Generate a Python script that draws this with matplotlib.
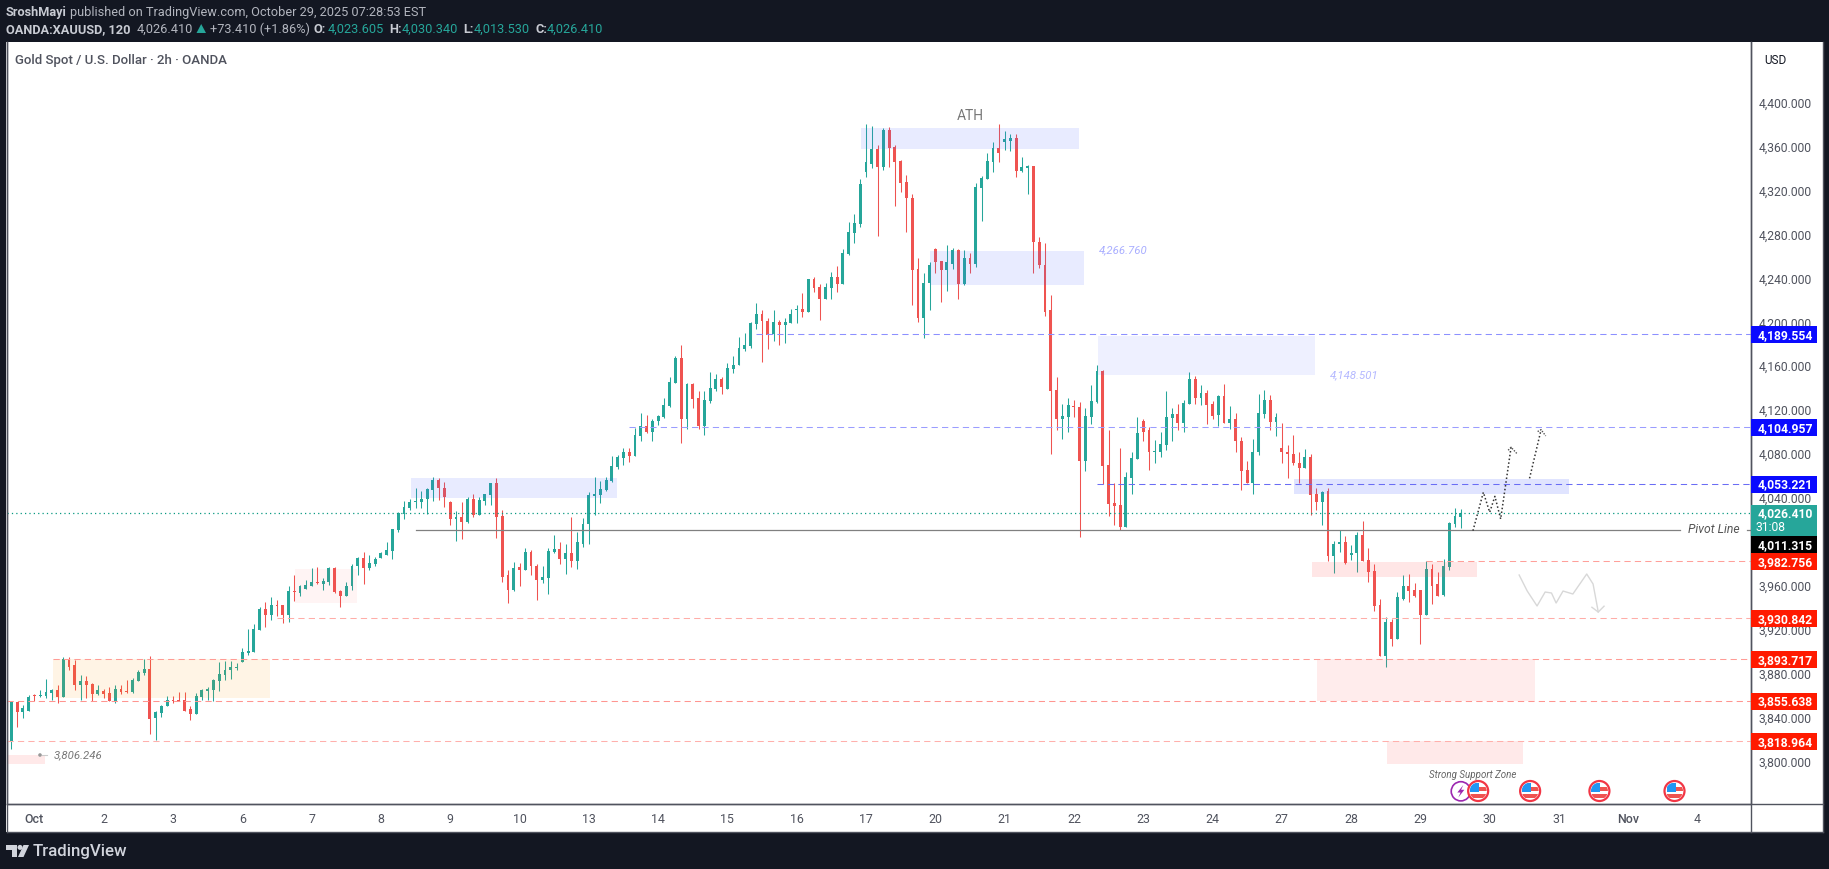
import numpy as np
import matplotlib
matplotlib.use("Agg")
import matplotlib.pyplot as plt
from matplotlib.patches import Rectangle, Circle, Polygon

FONT = ["Roboto", "DejaVu Sans"]
plt.rcParams["font.family"] = FONT

UP = "#26A69A"
DOWN = "#EF5350"
DARK = "#131722"
AXIS = "#50535E"

# 2h candles
opens = [
    3819, 3855, 3846, 3847, 3861, 3860, 3860, 3863, 3866, 3859,
    3894, 3888, 3870, 3874, 3871, 3862, 3865, 3863, 3856, 3867,
    3865, 3864, 3874, 3881, 3885, 3840, 3845, 3851, 3857, 3857,
    3857, 3848, 3844, 3859, 3865, 3866, 3874, 3879, 3884, 3886,
    3891, 3899, 3900, 3920, 3939, 3934, 3943, 3943, 3934, 3956,
    3954, 3958, 3960, 3964, 3962, 3964, 3977, 3956, 3951, 3960,
    3979, 3986, 3977, 3980, 3986, 3989, 3992, 4011, 4026, 4031,
    4037, 4037, 4040, 4048, 4057, 4050, 4037, 4021, 4023, 4019,
    4040, 4025, 4038, 4043, 4054, 4024, 3970, 3957, 3978, 3975,
    3991, 3979, 3966, 3968, 3991, 3994, 3985, 3990, 3983, 3999,
    4017, 4042, 4043, 4048, 4056, 4069, 4077, 4082, 4079, 4097,
    4106, 4101, 4111, 4114, 4124, 4145, 4168, 4112, 4144, 4132,
    4106, 4129, 4140, 4149, 4140, 4158, 4162, 4176, 4179, 4199,
    4208, 4202, 4190, 4201, 4198, 4200, 4212, 4213, 4210, 4240,
    4233, 4222, 4232, 4242, 4235, 4263, 4282, 4290, 4337, 4345,
    4358, 4342, 4376, 4360, 4347, 4328, 4314, 4249, 4204, 4236,
    4267, 4256, 4248, 4254, 4266, 4235, 4259, 4254, 4323, 4331,
    4346, 4359, 4365, 4366, 4368, 4338, 4341, 4343, 4274, 4253,
    4212, 4139, 4112, 4114, 4124, 4123, 4074, 4114, 4128, 4156,
    4071, 4036, 4034, 4014, 4059, 4076, 4111, 4102, 4082, 4082,
    4089, 4113, 4117, 4109, 4126, 4149, 4132, 4136, 4126, 4116,
    4133, 4109, 4112, 4092, 4066, 4054, 4082, 4117, 4130, 4110,
    4086, 4082, 4081, 4072, 4068, 4078, 4044, 4037, 4047, 3988,
    3999, 4000, 3989, 3990, 4007, 3984, 3974, 3943, 3897, 3928,
    3912, 3949, 3960, 3957, 3957, 3934, 3976, 3962, 3952, 3978,
    4017, 4023.605,
]
highs = [
    3856, 3855, 3852, 3861, 3862, 3866, 3876, 3867, 3870, 3896,
    3896, 3893, 3879, 3878, 3872, 3870, 3867, 3868, 3870, 3870,
    3875, 3877, 3884, 3894, 3897, 3847, 3852, 3860, 3860, 3864,
    3864, 3851, 3863, 3867, 3868, 3876, 3891, 3892, 3892, 3890,
    3904, 3921, 3926, 3941, 3946, 3950, 3948, 3943, 3960, 3970,
    3961, 3966, 3977, 3978, 3968, 3978, 3978, 3957, 3964, 3980,
    3987, 3991, 3989, 3987, 3991, 4000, 4012, 4028, 4038, 4040,
    4050, 4047, 4050, 4060, 4059, 4055, 4038, 4029, 4037, 4041,
    4044, 4041, 4044, 4054, 4059, 4030, 3975, 3982, 3981, 3995,
    3993, 3980, 3979, 3995, 4007, 4000, 3999, 4023, 4010, 4022,
    4046, 4060, 4056, 4060, 4079, 4080, 4086, 4086, 4104, 4118,
    4116, 4112, 4116, 4132, 4151, 4170, 4180, 4145, 4145, 4138,
    4138, 4155, 4153, 4151, 4163, 4170, 4187, 4191, 4201, 4218,
    4212, 4204, 4212, 4203, 4204, 4213, 4216, 4227, 4240, 4242,
    4235, 4236, 4246, 4252, 4267, 4292, 4299, 4331, 4381, 4379,
    4362, 4377, 4378, 4362, 4348, 4335, 4317, 4259, 4245, 4255,
    4268, 4256, 4271, 4268, 4267, 4266, 4264, 4327, 4334, 4355,
    4365, 4381, 4375, 4372, 4372, 4351, 4344, 4343, 4278, 4273,
    4225, 4151, 4126, 4132, 4130, 4128, 4122, 4143, 4162, 4157,
    4102, 4054, 4086, 4064, 4082, 4114, 4112, 4105, 4093, 4101,
    4138, 4122, 4126, 4130, 4155, 4152, 4143, 4139, 4129, 4134,
    4144, 4124, 4118, 4096, 4074, 4094, 4135, 4139, 4134, 4118,
    4109, 4089, 4098, 4082, 4085, 4081, 4050, 4047, 4050, 4001,
    4011, 4006, 3998, 4010, 4020, 3995, 3980, 3949, 3932, 3930,
    3955, 3970, 3971, 3963, 3957, 3983, 3980, 3973, 3985, 4019,
    4031, 4030.34,
]
lows = [
    3812, 3832, 3840, 3847, 3856, 3859, 3858, 3857, 3854, 3859,
    3884, 3866, 3857, 3858, 3856, 3861, 3858, 3856, 3854, 3862,
    3863, 3863, 3874, 3879, 3826, 3820, 3841, 3851, 3854, 3856,
    3847, 3838, 3844, 3857, 3857, 3856, 3865, 3875, 3876, 3884,
    3891, 3898, 3900, 3920, 3923, 3929, 3933, 3927, 3928, 3947,
    3951, 3958, 3960, 3962, 3957, 3961, 3954, 3941, 3951, 3957,
    3970, 3962, 3975, 3979, 3986, 3989, 3985, 4010, 4021, 4030,
    4031, 4031, 4026, 4038, 4039, 4032, 4016, 4001, 4003, 4018,
    4023, 4025, 4034, 4034, 4004, 3964, 3945, 3956, 3960, 3975,
    3970, 3948, 3963, 3953, 3990, 3980, 3971, 3978, 3976, 3996,
    3999, 4025, 4036, 4047, 4055, 4067, 4071, 4073, 4079, 4092,
    4100, 4092, 4107, 4113, 4123, 4145, 4091, 4103, 4122, 4103,
    4098, 4127, 4138, 4135, 4140, 4154, 4162, 4174, 4177, 4194,
    4164, 4176, 4183, 4180, 4182, 4200, 4200, 4205, 4210, 4228,
    4203, 4222, 4222, 4228, 4235, 4262, 4273, 4287, 4333, 4341,
    4279, 4339, 4342, 4306, 4319, 4283, 4216, 4201, 4186, 4212,
    4245, 4219, 4229, 4249, 4222, 4234, 4245, 4251, 4293, 4331,
    4337, 4346, 4357, 4356, 4333, 4337, 4317, 4245, 4250, 4206,
    4081, 4102, 4094, 4101, 4114, 4005, 4065, 4108, 4127, 4053,
    4024, 4016, 4011, 4014, 4044, 4076, 4092, 4066, 4072, 4078,
    4084, 4092, 4102, 4101, 4126, 4126, 4125, 4108, 4112, 4106,
    4109, 4103, 4082, 4048, 4054, 4044, 4080, 4113, 4102, 4097,
    4072, 4059, 4071, 4054, 4068, 4025, 4030, 4016, 3983, 3972,
    3991, 3980, 3984, 3973, 3983, 3964, 3938, 3897, 3887, 3906,
    3912, 3948, 3946, 3950, 3908, 3934, 3944, 3951, 3951, 3975,
    4014, 4013.53,
]
closes = [
    3855, 3846, 3849, 3859, 3860, 3861, 3864, 3866, 3859, 3894,
    3887, 3870, 3874, 3870, 3862, 3866, 3862, 3856, 3867, 3864,
    3864, 3875, 3882, 3885, 3839, 3846, 3851, 3857, 3856, 3856,
    3847, 3844, 3860, 3866, 3867, 3875, 3880, 3884, 3887, 3887,
    3900, 3901, 3921, 3939, 3934, 3943, 3942, 3934, 3956, 3955,
    3960, 3961, 3964, 3963, 3965, 3977, 3955, 3951, 3960, 3979,
    3986, 3977, 3981, 3985, 3990, 3993, 4012, 4027, 4032, 4037,
    4038, 4040, 4049, 4057, 4050, 4041, 4021, 4023, 4019, 4040,
    4025, 4039, 4044, 4054, 4023, 3969, 3957, 3977, 3975, 3991,
    3979, 3966, 3969, 3992, 3994, 3985, 3990, 3983, 4000, 4017,
    4043, 4044, 4049, 4057, 4070, 4078, 4082, 4079, 4098, 4106,
    4101, 4111, 4115, 4125, 4146, 4168, 4112, 4144, 4131, 4106,
    4130, 4141, 4149, 4142, 4159, 4162, 4177, 4180, 4200, 4208,
    4202, 4189, 4201, 4198, 4201, 4208, 4213, 4210, 4240, 4232,
    4222, 4233, 4242, 4235, 4264, 4283, 4291, 4326, 4346, 4358,
    4342, 4376, 4359, 4346, 4327, 4314, 4248, 4204, 4236, 4253,
    4255, 4248, 4255, 4266, 4235, 4259, 4254, 4324, 4332, 4347,
    4359, 4355, 4367, 4368, 4338, 4342, 4343, 4274, 4253, 4210,
    4138, 4112, 4115, 4125, 4123, 4074, 4115, 4129, 4156, 4070,
    4035, 4033, 4014, 4060, 4077, 4100, 4101, 4082, 4083, 4090,
    4114, 4117, 4109, 4127, 4149, 4132, 4136, 4125, 4115, 4133,
    4109, 4112, 4092, 4065, 4054, 4082, 4118, 4130, 4110, 4114,
    4082, 4081, 4072, 4068, 4078, 4043, 4037, 4046, 3988, 3999,
    4000, 3981, 3990, 4007, 3983, 3973, 3942, 3897, 3928, 3912,
    3950, 3960, 3956, 3951, 3934, 3976, 3960, 3951, 3979, 4018,
    4024, 4026.41,
]

date_labels = ["Oct", "2", "3", "6", "7", "8", "9", "10", "13", "14", "15", "16", "17",
               "20", "21", "22", "23", "24", "27", "28", "29", "30", "31", "Nov", "4"]
price_ticks = list(range(3800, 4401, 40))

# zones: bar from, bar to, price low, price high, colour, alpha
zones = [
    (147.1, 184.9, 4358.2, 4377.3, "#4861FF", 0.12),
    (159.1, 185.7, 4234.4, 4265.3, "#4861FF", 0.12),
    (188.2, 225.7, 4152.5, 4188.3, "#4861FF", 0.09),
    (69.2, 104.9, 4040.5, 4058.7, "#4861FF", 0.12),
    (222.1, 269.7, 4044.1, 4057.8, "#4861FF", 0.17),
    (7.2, 44.8, 3858.4, 3893.9, "#FF9800", 0.10),
    (49.1, 59.9, 3944.9, 3975.8, "#FF5252", 0.06),
    (225.2, 253.8, 3968.6, 3982.2, "#FF5252", 0.14),
    (226.1, 263.9, 3855.6, 3893.7, "#FF5252", 0.11),
    (238.2, 261.8, 3798.3, 3819.0, "#FF5252", 0.12),
    (-0.7, 5.8, 3798.3, 3806.5, "#FF5252", 0.12),
]
# level lines: price, first bar, colour
levels = [
    (4189.554, 129, "#8C90FF"),
    (4104.957, 107, "#9A9DFF"),
    (4053.221, 188, "#6A6DF5"),
    (3982.756, 245, "#FFA09A"),
    (3930.842, 46, "#FFADA8"),
    (3893.717, 7.2, "#FF9C96"),
    (3855.638, -0.7, "#FF9590"),
    (3818.964, -0.7, "#FFB0AC"),
]
# price tags on the scale: price, text, colour, centre shift in px
tags = [
    (4189.554, "4,189.554", "#0A0AFF", 0),
    (4104.957, "4,104.957", "#0A0AFF", 0),
    (4053.221, "4,053.221", "#0A0AFF", 0),
    (3982.756, "3,982.756", "#FF1A00", 0),
    (3930.842, "3,930.842", "#FF1A00", 0),
    (3893.717, "3,893.717", "#FF1A00", 0),
    (3855.638, "3,855.638", "#FF1A00", 0),
    (3818.964, "3,818.964", "#FF1A00", 0),
    (4011.315, "4,011.315", "#000000", 14.5),
]

# hand drawn scenario paths (bar, price)
path_up_x = [253.1, 254.9, 256.0, 256.9, 257.9, 259.7]
path_up_y = [4010.7, 4045.7, 4027.5, 4042.0, 4021.4, 4086.7]
path_up2_x = [262.9, 264.9]
path_up2_y = [4058.4, 4102.7]
pencil_x = [261.1, 262.5, 264.2, 265.6, 266.7, 267.5, 268.7, 270.4, 272.8, 273.9, 274.8]
pencil_y = [3970.4, 3955.8, 3942.2, 3954.9, 3954.0, 3944.9, 3955.8, 3953.1, 3971.3, 3962.2, 3936.7]
flag_bars = [254, 263, 275, 288]
bolt_bar = 251

BAR0 = 11.3      # px of first bar
BAR_STEP = 5.775
P_REF, Y_REF, PX_PER_USD = 4189.554, 335.3, 1.0983


def bar_x(i):
    return BAR0 + BAR_STEP * i


def price_y(p):
    return Y_REF + (P_REF - p) * PX_PER_USD


W, H = 1829, 870
L, R, T, B = 7, 1750.5, 43, 805
fig = plt.figure(figsize=(W / 100, H / 100), dpi=100, facecolor=DARK)

back = fig.add_axes([0, 0, 1, 1], zorder=0)
back.set_xlim(0, W)
back.set_ylim(H, 0)
back.axis("off")
back.add_patch(Rectangle((6, T), 1822.5 - 6, 833.3 - T, fc="white", ec="none"))

ax = fig.add_axes([L / W, 1 - B / H, (R - L) / W, (B - T) / H], zorder=1)
ax.set_xlim((L - BAR0) / BAR_STEP, (R - BAR0) / BAR_STEP)
ax.set_ylim(P_REF - (B - Y_REF) / PX_PER_USD, P_REF + (Y_REF - T) / PX_PER_USD)

o = np.array(opens)
h = np.array(highs)
l = np.array(lows)
c = np.array(closes)
xs = np.arange(len(o))
colors = [UP if cc >= oo else DOWN for oo, cc in zip(o, c)]

ax.vlines(xs, l, h, colors=colors, linewidth=0.75, zorder=2)
ax.bar(xs, np.maximum(np.abs(c - o), 1.0), bottom=np.minimum(o, c), width=0.5,
       color=colors, linewidth=0, zorder=3)

for x0, x1, p0, p1, col, alpha in zones:
    ax.add_patch(Rectangle((x0, p0), x1 - x0, p1 - p0, fc=col, ec="none", alpha=alpha, zorder=4))

xmax = ax.get_xlim()[1]
for price, start, col in levels:
    ax.plot([start, xmax], [price, price], color=col, lw=0.75, dashes=(6, 4), zorder=5)

# last price and pivot line
ax.axhline(closes[-1], color="#089981", lw=0.9, ls=(0, (1, 2.5)), zorder=5)
ax.plot([70, 289], [4011.315, 4011.315], color="#808080", lw=0.9, zorder=5)
ax.plot([300.6, xmax], [4011.315, 4011.315], color="#808080", lw=0.9, zorder=5)

# projected paths
ax.plot(path_up_x, path_up_y, color="#333333", lw=1.1, ls=(0, (1, 1.5)), zorder=6)
ax.plot(path_up2_x, path_up2_y, color="#333333", lw=1.1, ls=(0, (1, 1.5)), zorder=6)
ax.plot([259.2, 259.7, 260.7], [4084, 4086.7, 4081], color="#555555", lw=1.0, ls=(0, (1, 1)), zorder=6)
ax.plot([264.3, 264.9, 265.7], [4101, 4102.7, 4097], color="#555555", lw=1.0, ls=(0, (1, 1)), zorder=6)
ax.plot(pencil_x, pencil_y, color="#D8D8D8", lw=1.0, zorder=6)
ax.plot([273.7, 274.8, 275.8], [3941, 3936.7, 3942], color="#D8D8D8", lw=1.0, zorder=6)

# axes furniture
ax.set_xticks([4 + 12 * k for k in range(len(date_labels))])
ax.set_xticklabels(date_labels, fontsize=8.9, color=AXIS)
for lab in ax.get_xticklabels():
    if lab.get_text() in ("Oct", "Nov"):
        lab.set_fontweight("medium")
ax.tick_params(axis="x", length=0, pad=5.5)
ax.yaxis.tick_right()
ax.set_yticks(price_ticks)
ax.set_yticklabels([f"{p:,.3f}" for p in price_ticks], fontsize=8.7, color=AXIS)
ax.tick_params(axis="y", length=0, pad=6)
for lab in ax.get_yticklabels():
    lab.set_verticalalignment("center")
for s in ("left", "right", "bottom"):
    ax.spines[s].set_color(AXIS)
    ax.spines[s].set_linewidth(1.0)
ax.spines["top"].set_visible(False)

# everything below sits on a pixel overlay
ov = fig.add_axes([0, 0, 1, 1], zorder=5)
ov.set_xlim(0, W)
ov.set_ylim(H, 0)
ov.axis("off")


def label(x, y, s, size=9.15, color="#B2B5BE", ha="left", weight="normal", style="normal"):
    ov.text(x, y, s, fontsize=size, color=color, ha=ha, va="center", fontweight=weight, fontstyle=style)


ov.add_patch(Rectangle((1750.5, 805), 72, 28.3, fc="white", ec="none", zorder=1))
ov.plot([1750.5, 1750.5], [43, 833.3], color=AXIS, lw=1.0)
ov.plot([6.5, 1822.5], [805, 805], color=AXIS, lw=1.0)
ov.plot([6.5, 6.5], [43, 833.3], color=AXIS, lw=1.0)
ov.plot([1822.5, 1822.5], [43, 833.3], color=AXIS, lw=1.0)
ov.plot([6.5, 1822.5], [833.3, 833.3], color=AXIS, lw=1.0)

# header
label(6, 12.5, "SroshMayi", weight="bold", color="#C8CBD3")
label(70, 12.5, "published on TradingView.com, October 29, 2025 07:28:53 EST")
label(6, 29.5, "OANDA:XAUUSD, 120", weight="bold", color="#C8CBD3")
label(137, 29.5, "4,026.410")
ov.add_patch(Polygon([[196.5, 34], [206, 34], [201.2, 25]], fc=UP, ec="none"))
label(209.7, 29.5, "+73.410 (+1.86%)")
for lx, vx, key, val in [(313.8, 328, "O:", "4,023.605"), (389, 402, "H:", "4,030.340"),
                         (463, 473.8, "L:", "4,013.530"), (535, 546.5, "C:", "4,026.410")]:
    label(lx, 29.5, key, weight="bold", color="#C8CBD3")
    label(vx, 29.5, val, color=UP)
label(15, 60.3, "Gold Spot / U.S. Dollar · 2h · OANDA", color=AXIS, size=9.5, weight="medium")
label(1764, 61, "USD", color=DARK, size=8.5)

# annotations
label(970, 116, "ATH", color="#777777", size=10, ha="center")
label(1098.7, 250, "4,266.760", color="#A9AEFF", size=8.2, style="italic")
label(1330, 375, "4,148.501", color="#B4B8FF", size=8.2, style="italic")
label(54, 755.7, "3,806.246", color="#777777", size=8.2, style="italic")
ov.add_patch(Circle((40, 756), 1.8, fc="#999999", ec="none"))
ov.plot([42, 47], [756, 756], color="#CCCCCC", lw=0.8)
label(1688, 530, "Pivot Line", color="#555555", size=8.7, style="italic")
label(1429.4, 774.7, "Strong Support Zone", color="#666666", size=7, style="italic")

# price tags
for price, text, col, shift in tags:
    yc = price_y(price) + shift
    ov.add_patch(Rectangle((1751, yc - 8.5), 66, 17, fc=col, ec="none", zorder=3))
    ov.text(1785.5, yc, text, color="white", fontsize=8.7, ha="center", va="center", fontweight="bold", zorder=4)
ov.add_patch(Rectangle((1751, 506), 66, 31, fc=UP, ec="none", zorder=3))
ov.text(1785.5, 513.7, "4,026.410", color="white", fontsize=8.7, ha="center", va="center", fontweight="bold", zorder=4)
ov.text(1770.5, 528, "31:08", color="white", fontsize=8.7, ha="center", va="center", zorder=4)

# calendar icons
for i in [bolt_bar]:
    cx = bar_x(i)
    ov.add_patch(Circle((cx, 792.3), 9.6, fc="white", ec="#9C27B0", lw=1.2, zorder=3))
    ov.add_patch(Polygon([[cx + 2.5, 786], [cx - 3.5, 793.5], [cx - 0.3, 793.5], [cx - 2.5, 798.5],
                          [cx + 3.5, 790.8], [cx + 0.3, 790.8]], fc="#9C27B0", ec="none", zorder=4))
for i in flag_bars:
    cx = bar_x(i)
    ring = Circle((cx, 792), 10, fc="white", ec="#F23645", lw=1.6, zorder=5)
    ov.add_patch(ring)
    parts = [
        ((-8, -8), 9, 8.5, "#2196F3"),
        ((1, -4), 8, 4, "#EF5350"),
        ((-8, 3), 16, 4, "#EF5350"),
    ]
    for (dx, dy), w, hh, col in parts:
        rect = Rectangle((cx + dx, 792 + dy), w, hh, fc=col, ec="none", zorder=6)
        ov.add_patch(rect)
        rect.set_clip_path(Circle((cx, 792), 8.5, transform=ov.transData))

# footer logo
ov.add_patch(Polygon([[6, 846], [17, 846], [17, 858], [12, 858], [12, 851], [6, 851]], fc="#D1D4DC", ec="none"))
ov.add_patch(Circle((20, 848.4), 2.5, fc="#D1D4DC", ec="none"))
ov.add_patch(Polygon([[23.5, 846], [29, 846], [23.5, 858], [18, 858]], fc="#D1D4DC", ec="none"))
label(33, 851.7, "TradingView", color="#D1D4DC", size=12.2, weight="medium")

fig.savefig("out.png", dpi=100, facecolor=DARK)
